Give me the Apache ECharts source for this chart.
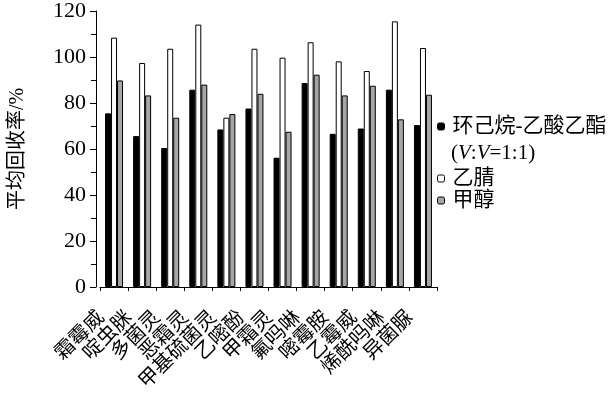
<!DOCTYPE html>
<html>
<head>
<meta charset="utf-8">
<script src="https://cdn.jsdelivr.net/npm/echarts@6/dist/echarts.min.js"></script>
<style>
html,body{margin:0;padding:0;background:#fff;}
#chart{width:609px;height:395px;}
</style>
</head>
<body>
<div id="chart"></div>
<script>
const categories = ['霜霉威','啶虫脒','多菌灵','恶霜灵','甲基硫菌灵','乙嘧酚','甲霜灵','氟吗啉','嘧霉胺','乙霉威','烯酰吗啉','异菌脲'];
const seriesNames = ['环己烷-乙酸乙酯','乙腈','甲醇'];
const cyclohexaneEA = [75.5, 65.6, 60.4, 85.8, 68.5, 77.6, 56.2, 88.7, 66.6, 68.9, 85.8, 70.4];
const acetonitrile = [108.4, 97.4, 103.6, 114.1, 73.6, 103.6, 99.7, 106.4, 98.1, 93.9, 115.5, 103.9];
const methanol = [89.8, 83.3, 73.6, 88.0, 75.2, 84.0, 67.5, 92.3, 83.3, 87.5, 72.9, 83.6];
const yTicks = [0, 20, 40, 60, 80, 100, 120];

const FONT = "'Liberation Serif','Noto Sans CJK SC',serif";
const colors = ['#000000', '#ffffff', '#a6a6a6'];
const values = [cyclohexaneEA, acetonitrile, methanol];

const chart = echarts.init(document.getElementById('chart'), null, {renderer: 'canvas'});
chart.setOption({
  animation: false,
  backgroundColor: '#fff',
  textStyle: {fontFamily: FONT, color: '#000'},
  grid: {left: 82, right: 172, top: 11, bottom: 108, containLabel: false},
  legend: [
    {
      data: [seriesNames[0]], left: 432, top: 111, orient: 'vertical',
      itemWidth: 7, itemHeight: 7, itemGap: 0,
      itemStyle: {borderColor: '#000', borderWidth: 1},
      textStyle: {fontFamily: FONT, fontSize: 21, color: '#000', padding: [0,0,0,3]}
    },
    {
      data: [seriesNames[1], seriesNames[2]], left: 432, top: 163, orient: 'vertical',
      itemWidth: 7, itemHeight: 7, itemGap: 1,
      itemStyle: {borderColor: '#000', borderWidth: 1},
      textStyle: {fontFamily: FONT, fontSize: 21, color: '#000', padding: [0,0,0,3]}
    }
  ],
  graphic: [{
    type: 'text', left: 451, top: 143,
    style: {
      text: '({i|V}:{i|V}=1:1)',
      font: '21px ' + FONT, fill: '#000',
      rich: {i: {fontStyle: 'italic', fontSize: 21, fontFamily: FONT, fill: '#000'}}
    }
  }],
  xAxis: {
    type: 'category', data: categories,
    axisLine: {lineStyle: {color: '#000', width: 1}},
    axisTick: {show: true, length: 4, lineStyle: {color: '#000'}},
    axisLabel: {rotate: 45, interval: 0, fontSize: 20, fontFamily: FONT, color: '#000', margin: 15, padding: [0, 18, 0, 0]}
  },
  yAxis: {
    type: 'value', min: yTicks[0], max: yTicks[yTicks.length-1], interval: 20, offset: 4,
    name: '平均回收率/%', nameLocation: 'middle', nameGap: 68,
    nameTextStyle: {fontSize: 20, fontFamily: FONT, color: '#000'},
    axisLine: {show: true, lineStyle: {color: '#000', width: 1}},
    axisTick: {show: true, length: 6, lineStyle: {color: '#000'}},
    minorTick: {show: true, splitNumber: 2, length: 5, lineStyle: {color: '#000'}},
    splitLine: {show: false},
    axisLabel: {fontSize: 22, fontFamily: FONT, color: '#000', margin: 10}
  },
  series: seriesNames.map((n, i) => ({
    name: n, type: 'bar', data: values[i], barWidth: 6, barGap: '0%',
    itemStyle: {color: colors[i], borderColor: '#000', borderWidth: 1}
  }))
});
</script>
</body>
</html>
